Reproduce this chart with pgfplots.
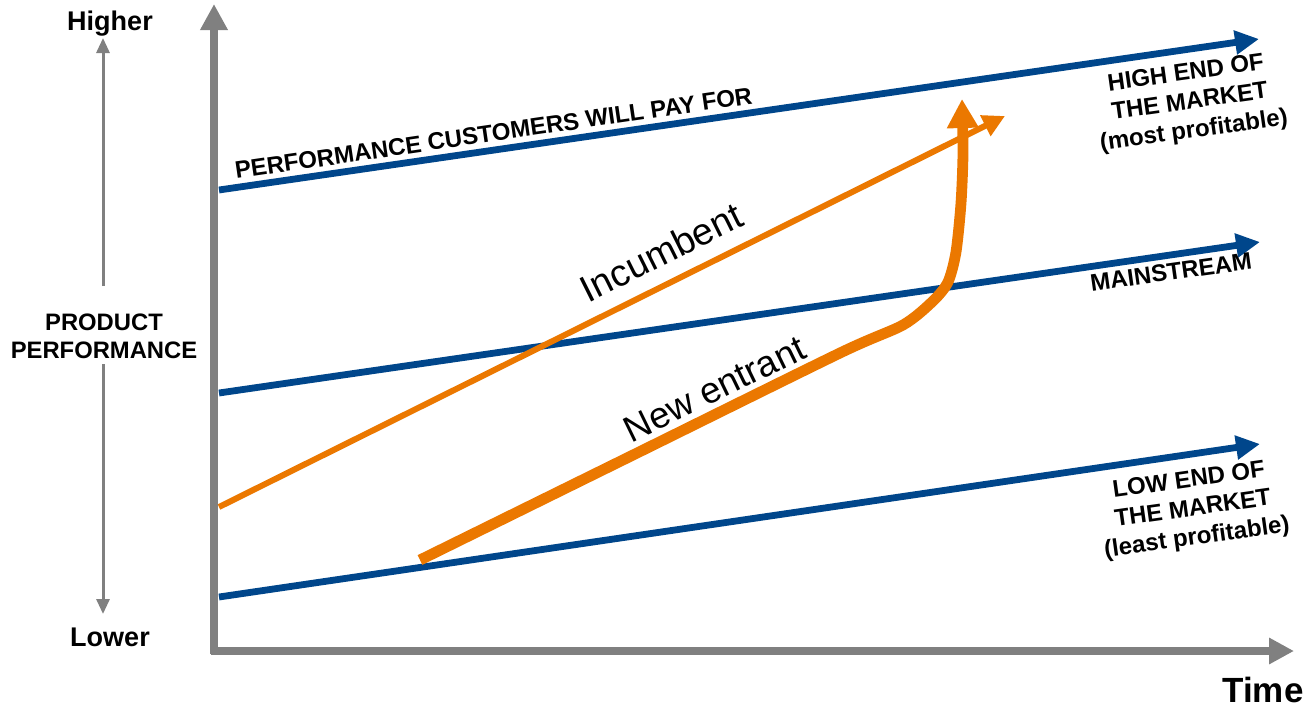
\documentclass[border=0pt]{standalone}
\usepackage{fontspec}
\setmainfont{Liberation Sans}
\usepackage{pgfplots}
\pgfplotsset{compat=1.18}
\usetikzlibrary{arrows.meta}
\definecolor{mktBlue}{HTML}{00468B}
\definecolor{mktOrange}{HTML}{EB7800}
\definecolor{axisGray}{HTML}{808080}
\begin{document}
\begin{tikzpicture}
  % one pixel of the sketch = 0.5pt, y measured downwards
  \begin{axis}[
    width=654pt, height=353.5pt, scale only axis,
    xmin=0, xmax=1308, ymin=0, ymax=707,
    y dir=reverse,
    hide axis, clip=false,
    every axis plot/.append style={line cap=butt},
  ]
    \path (axis cs:0,0) rectangle (axis cs:1308,707);

    % time / performance axes
    \addplot[axisGray, line width=3.6pt, -{Triangle[length=13pt,width=13pt]}]
      coordinates {(214,654) (214,4)};
    \addplot[axisGray, line width=3.6pt, -{Triangle[length=12.5pt,width=12.5pt]}]
      coordinates {(211,651) (1294,651)};
    \addplot[axisGray, line width=1.5pt, -{Triangle[length=7.5pt,width=6.5pt]}]
      coordinates {(103,286) (103,38)};
    \addplot[axisGray, line width=1.5pt, -{Triangle[length=7.5pt,width=6.5pt]}]
      coordinates {(103,364) (103,614)};

    % market tiers
    \addplot[mktBlue, line width=3.4pt, -{Triangle[length=12pt,width=11.5pt]}]
      coordinates {(219,190) (1259,39)};
    \addplot[mktBlue, line width=3.4pt, -{Triangle[length=12pt,width=11.5pt]}]
      coordinates {(219,393) (1260,242)};
    \addplot[mktBlue, line width=3.4pt, -{Triangle[length=12pt,width=11.5pt]}]
      coordinates {(219,597) (1260,444)};

    % incumbent
    \addplot[mktOrange, line width=3pt, -{Triangle[length=11pt,width=11pt]}]
      coordinates {(219,507) (1005,116)};

    % new entrant
    \addplot[mktOrange, line width=5.4pt, smooth, tension=0.45,
      -{Triangle[length=14.5pt,width=15pt]}]
      coordinates {(420,560) (630,456.5) (840,353) (903,325) (933,301)
        (948,282) (956,252) (961,203) (963,153) (962,99)};

    % labels
    \node[font=\fontsize{13.5}{15}\selectfont\bfseries] at (axis cs:110,24) {Higher};
    \node[font=\fontsize{13.5}{15}\selectfont\bfseries] at (axis cs:110,637) {Lower};
    \node[font=\fontsize{11.9}{14}\selectfont\bfseries, align=center]
      at (axis cs:104,336) {PRODUCT\\PERFORMANCE};
    \node[font=\fontsize{17.5}{20}\selectfont\bfseries, anchor=base, inner sep=0pt]
      at (axis cs:1263,702) {Time};

    \node[font=\fontsize{12}{14}\selectfont\bfseries, anchor=base west, inner sep=0pt,
      rotate=8.3] at (axis cs:236,179) {PERFORMANCE CUSTOMERS WILL PAY FOR};
    \node[font=\fontsize{12}{14.5}\selectfont\bfseries, align=center, rotate=8]
      at (axis cs:1190,103) {HIGH END OF\\THE MARKET\\(most profitable)};
    \node[font=\fontsize{12}{14}\selectfont\bfseries, rotate=8]
      at (axis cs:1171,272) {MAINSTREAM};
    \node[font=\fontsize{12}{14.5}\selectfont\bfseries, align=center, rotate=8]
      at (axis cs:1193,510) {LOW END OF\\THE MARKET\\(least profitable)};

    \node[font=\fontsize{18.8}{22}\selectfont, anchor=base, inner sep=0pt, rotate=26.5]
      at (axis cs:667,264) {Incumbent};
    \node[font=\fontsize{18.3}{22}\selectfont, anchor=base, inner sep=0pt, rotate=26]
      at (axis cs:720,400) {New entrant};
  \end{axis}
\end{tikzpicture}
\end{document}
